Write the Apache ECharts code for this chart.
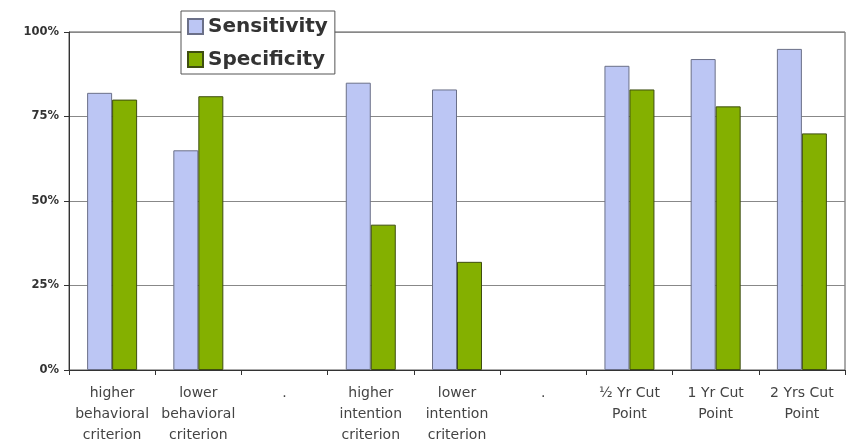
<!DOCTYPE html>
<html>
<head>
<meta charset="utf-8">
<script src="https://cdn.jsdelivr.net/npm/echarts@6/dist/echarts.min.js"></script>
<style>
  html, body { margin: 0; padding: 0; background: #fff; }
</style>
</head>
<body>
<div id="myChart" style="width: 850px; height: 443px;"></div>
<script>
// categories (x axis), "." are empty spacer groups
var categories = [
  'higher\nbehavioral\ncriterion',
  'lower\nbehavioral\ncriterion',
  '.',
  'higher\nintention\ncriterion',
  'lower\nintention\ncriterion',
  '.',
  '½ Yr Cut\nPoint',
  '1 Yr Cut\nPoint',
  '2 Yrs Cut\nPoint'
];
// values in percent
var sensitivity = [82, 65, null, 85, 83, null, 90, 92, 95];
var specificity = [80, 81, null, 43, 32, null, 83, 78, 70];
var yTicks = [0, 25, 50, 75, 100];

var myChart = echarts.init(document.getElementById('myChart'));
var option = {
  animation: false,
  textStyle: { fontFamily: 'DejaVu Sans' },
  grid: {
    left: 69, right: 5, top: 32, bottom: 73, outerBoundsMode: 'none',
    show: true, borderColor: '#555', borderWidth: 1 // plot frame (right side visible)
  },
  legend: {
    orient: 'vertical',
    left: 181,
    top: 11,
    backgroundColor: '#fff',
    borderColor: '#555',
    borderWidth: 1,
    padding: [4, 7, 3, 6],
    itemWidth: 15,
    itemHeight: 15,
    itemGap: 10,
    icon: 'rect',
    data: ['Sensitivity', 'Specificity'],
    textStyle: { fontSize: 20, fontWeight: 'bold', color: '#333', lineHeight: 23 }
  },
  xAxis: {
    type: 'category',
    data: categories,
    axisLine: { lineStyle: { color: '#333', width: 1 } },
    axisTick: { show: true, length: 5, lineStyle: { color: '#333' } },
    axisLabel: { interval: 0, fontSize: 14, lineHeight: 21, color: '#444', margin: 13 }
  },
  yAxis: {
    type: 'value',
    min: yTicks[0],
    max: yTicks[yTicks.length - 1],
    interval: 25,
    axisLine: { show: true, lineStyle: { color: '#333', width: 1 } },
    axisTick: { show: true, length: 5, lineStyle: { color: '#333' } },
    axisLabel: { formatter: '{value}%', fontSize: 11.5, fontWeight: 'bold', color: '#333', margin: 10 },
    splitLine: { lineStyle: { color: '#888', width: 1 } }
  },
  series: [
    {
      name: 'Sensitivity',
      type: 'bar',
      data: sensitivity,
      barWidth: 25,
      barGap: '0%',
      itemStyle: { color: '#BCC6F4', borderColor: '#6b7088', borderWidth: 1 }
    },
    {
      name: 'Specificity',
      type: 'bar',
      data: specificity,
      barWidth: 25,
      itemStyle: { color: '#84B000', borderColor: '#3e4e10', borderWidth: 1 }
    }
  ]
};
myChart.setOption(option);
</script>
</body>
</html>
